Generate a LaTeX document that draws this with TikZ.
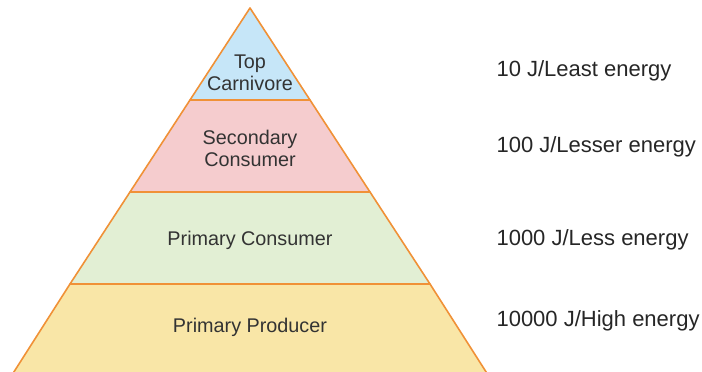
\documentclass[tikz,border=0pt]{standalone}
\usepackage{fontspec}
\setmainfont{Liberation Sans}
\usepackage{tikz}
\usetikzlibrary{arrows.meta, positioning, calc}
\definecolor{pyrorange}{RGB}{240, 145,  55}
\definecolor{pyrblue}{RGB}{198, 230, 248}
\definecolor{pyrpink}{RGB}{245, 204, 206}
\definecolor{pyrgreen}{RGB}{226, 239, 212}
\definecolor{pyryellow}{RGB}{249, 230, 167}
\definecolor{pyrtext}{RGB}{51, 51, 51}

\begin{document}
\begin{tikzpicture}[x=1pt,y=1pt,
		band/.style={draw=pyrorange, line width=1.6pt, line join=round},
		tier/.style={text=pyrtext, align=center, font=\fontsize{19.8}{22}\selectfont},
		energy/.style={text=black!85, anchor=west, font=\fontsize{22}{24}\selectfont}]
	\useasboundingbox (0,0) rectangle (702,372);
	% bands, bottom to top
	\draw[band,fill=pyryellow] (12.6,-2)--(487.4,-2)--(430,88)--(70,88)--cycle;
	\draw[band,fill=pyrgreen] (70,88)--(430,88)--(370,180)--(130,180)--cycle;
	\draw[band,fill=pyrpink] (130,180)--(370,180)--(310,272)--(190,272)--cycle;
	\draw[band,fill=pyrblue] (190,272)--(310,272)--(250,364)--cycle;
	% tier names
	\node[tier] (top) at (250,299) {Top\\Carnivore};
	\node[tier] (secondary) at (250,224) {Secondary\\Consumer};
	\node[tier] (primary) at (250,132) {Primary Consumer};
	\node[tier] (producer) at (250,45) {Primary Producer};
	% energy at each tier
	\node[energy] (e10) at (493,301) {10 J/Least energy};
	\node[energy] (e100) at (493,225) {100 J/Lesser energy};
	\node[energy] (e1000) at (493,132) {1000 J/Less energy};
	\node[energy] (e10000) at (493,51) {10000 J/High energy};
\end{tikzpicture}
\end{document}
